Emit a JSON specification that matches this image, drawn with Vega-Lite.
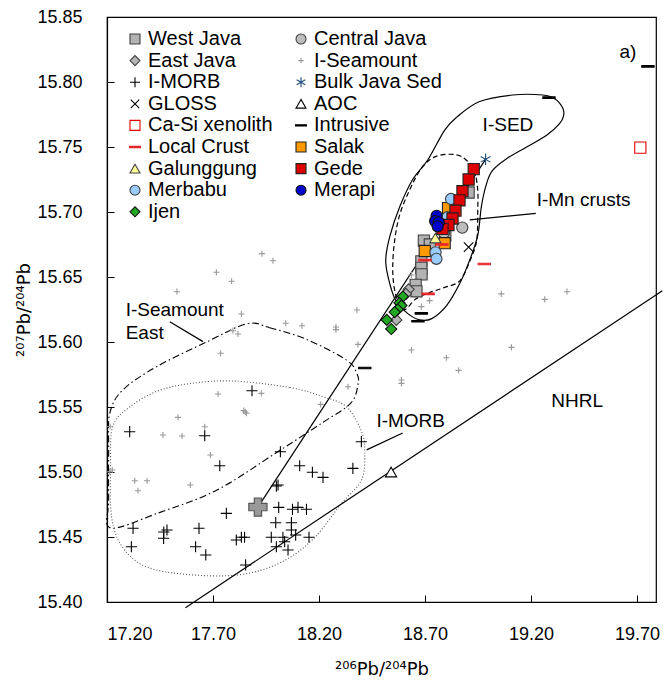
{
  "$schema": "https://vega.github.io/schema/vega-lite/v6.json",
  "width": 549,
  "height": 585,
  "autosize": "none",
  "padding": {"left": 107, "top": 17, "right": 8, "bottom": 84},
  "background": "white",
  "config": {
    "font": "Liberation Sans",
    "view": {"stroke": "black", "strokeWidth": 1.2},
    "axis": {"grid": false, "domainColor": "black", "domainWidth": 1.2, "tickColor": "black", "tickSize": -7, "labelFont": "Liberation Sans", "labelFontSize": 18, "labelColor": "black", "titleFont": "DejaVu Sans", "titleFontSize": 18, "titleFontWeight": "normal", "titleColor": "black"}
  },
  "datasets": {
    "pts": [
      {"s":"I-Seamount","x":17.931,"y":15.668},{"s":"I-Seamount","x":17.983,"y":15.6625},{"s":"I-Seamount","x":17.716,"y":15.6536},{"s":"I-Seamount","x":17.788,"y":15.6467},{"s":"I-Seamount","x":17.53,"y":15.6387},{"s":"I-Seamount","x":17.834,"y":15.6215},{"s":"I-Seamount","x":18.379,"y":15.6246},{"s":"I-Seamount","x":18.043,"y":15.6144},{"s":"I-Seamount","x":18.12,"y":15.6125},{"s":"I-Seamount","x":18.28,"y":15.6115},{"s":"I-Seamount","x":18.28,"y":15.6095},{"s":"I-Seamount","x":17.794,"y":15.6087},{"s":"I-Seamount","x":17.818,"y":15.6062},{"s":"I-Seamount","x":18.384,"y":15.5982},{"s":"I-Seamount","x":17.736,"y":15.5913},{"s":"I-Seamount","x":18.337,"y":15.5656},{"s":"I-Seamount","x":17.724,"y":15.56},{"s":"I-Seamount","x":17.928,"y":15.5605},{"s":"I-Seamount","x":18.208,"y":15.552},{"s":"I-Seamount","x":17.845,"y":15.5472},{"s":"I-Seamount","x":17.852,"y":15.5462},{"s":"I-Seamount","x":17.858,"y":15.5452},{"s":"I-Seamount","x":17.535,"y":15.542},{"s":"I-Seamount","x":17.661,"y":15.5348},{"s":"I-Seamount","x":17.464,"y":15.5285},{"s":"I-Seamount","x":17.554,"y":15.5277},{"s":"I-Seamount","x":17.688,"y":15.5131},{"s":"I-Seamount","x":17.225,"y":15.5015},{"s":"I-Seamount","x":17.213,"y":15.5002},{"s":"I-Seamount","x":17.331,"y":15.4933},{"s":"I-Seamount","x":17.389,"y":15.4933},{"s":"I-Seamount","x":17.346,"y":15.4856},{"s":"I-Seamount","x":17.593,"y":15.49},{"s":"I-Seamount","x":19.06,"y":15.637},{"s":"I-Seamount","x":19.265,"y":15.6328},{"s":"I-Seamount","x":19.37,"y":15.6387},{"s":"I-Seamount","x":18.722,"y":15.6318},{"s":"I-Seamount","x":18.683,"y":15.6272},{"s":"I-Seamount","x":18.636,"y":15.5938},{"s":"I-Seamount","x":18.801,"y":15.5879},{"s":"I-Seamount","x":18.859,"y":15.5782},{"s":"I-Seamount","x":19.108,"y":15.5959},{"s":"I-Seamount","x":18.589,"y":15.5708},{"s":"I-Seamount","x":18.589,"y":15.5682},{"s":"I-Seamount","x":18.636,"y":15.6515},{"s":"I-Seamount","x":17.215,"y":15.535},
      {"s":"I-MORB","x":17.884,"y":15.5625},{"s":"I-MORB","x":17.307,"y":15.531},{"s":"I-MORB","x":17.661,"y":15.5279},{"s":"I-MORB","x":18.4,"y":15.5233},{"s":"I-MORB","x":18.018,"y":15.5156},{"s":"I-MORB","x":17.732,"y":15.5048},{"s":"I-MORB","x":18.109,"y":15.5048},{"s":"I-MORB","x":18.169,"y":15.4998},{"s":"I-MORB","x":18.219,"y":15.4959},{"s":"I-MORB","x":18.36,"y":15.5028},{"s":"I-MORB","x":18.007,"y":15.49},{"s":"I-MORB","x":17.999,"y":15.4892},{"s":"I-MORB","x":18.01,"y":15.4728},{"s":"I-MORB","x":18.075,"y":15.4713},{"s":"I-MORB","x":18.101,"y":15.4728},{"s":"I-MORB","x":18.141,"y":15.4713},{"s":"I-MORB","x":17.763,"y":15.4682},{"s":"I-MORB","x":17.323,"y":15.4567},{"s":"I-MORB","x":17.483,"y":15.4554},{"s":"I-MORB","x":17.468,"y":15.4538},{"s":"I-MORB","x":17.634,"y":15.4567},{"s":"I-MORB","x":17.315,"y":15.4425},{"s":"I-MORB","x":17.467,"y":15.449},{"s":"I-MORB","x":17.618,"y":15.4425},{"s":"I-MORB","x":17.666,"y":15.4362},{"s":"I-MORB","x":17.81,"y":15.4477},{"s":"I-MORB","x":17.834,"y":15.4498},{"s":"I-MORB","x":17.849,"y":15.4498},{"s":"I-MORB","x":17.854,"y":15.4285},{"s":"I-MORB","x":17.996,"y":15.461},{"s":"I-MORB","x":18.07,"y":15.461},{"s":"I-MORB","x":18.07,"y":15.4554},{"s":"I-MORB","x":17.975,"y":15.4498},{"s":"I-MORB","x":18.03,"y":15.4498},{"s":"I-MORB","x":18.038,"y":15.4464},{"s":"I-MORB","x":17.999,"y":15.4425},{"s":"I-MORB","x":18.054,"y":15.44},{"s":"I-MORB","x":18.09,"y":15.4515},{"s":"I-MORB","x":18.153,"y":15.4498},
      {"s":"West Java","x":18.906,"y":15.715},{"s":"West Java","x":18.695,"y":15.678},{"s":"West Java","x":18.723,"y":15.675},{"s":"West Java","x":18.683,"y":15.662},{"s":"West Java","x":18.683,"y":15.657},{"s":"West Java","x":18.684,"y":15.652},{"s":"West Java","x":18.656,"y":15.644},{"s":"West Java","x":18.66,"y":15.639},{"s":"West Java","x":18.796,"y":15.682},
      {"s":"East Java","x":18.623,"y":15.6405},{"s":"East Java","x":18.565,"y":15.617},{"s":"East Java","x":18.61,"y":15.637},
      {"s":"Central Java","x":18.876,"y":15.688},{"s":"Central Java","x":18.79,"y":15.684},
      {"s":"Ijen","x":18.596,"y":15.635},{"s":"Ijen","x":18.58,"y":15.63},{"s":"Ijen","x":18.589,"y":15.628},{"s":"Ijen","x":18.572,"y":15.625},{"s":"Ijen","x":18.557,"y":15.623},{"s":"Ijen","x":18.52,"y":15.617},{"s":"Ijen","x":18.541,"y":15.61},
      {"s":"Salak","x":18.809,"y":15.703},{"s":"Salak","x":18.793,"y":15.676},{"s":"Salak","x":18.699,"y":15.67},
      {"s":"Galunggung","x":18.749,"y":15.68},
      {"s":"Merbabu","x":18.823,"y":15.71},{"s":"Merbabu","x":18.806,"y":15.696},{"s":"Merbabu","x":18.798,"y":15.689},{"s":"Merbabu","x":18.75,"y":15.669},{"s":"Merbabu","x":18.754,"y":15.664},
      {"s":"Gede","x":18.93,"y":15.733},{"s":"Gede","x":18.906,"y":15.725},{"s":"Gede","x":18.877,"y":15.716},{"s":"Gede","x":18.863,"y":15.709},{"s":"Gede","x":18.844,"y":15.701},{"s":"Gede","x":18.83,"y":15.695},{"s":"Gede","x":18.811,"y":15.69},{"s":"Gede","x":18.783,"y":15.687},
      {"s":"Merapi","x":18.755,"y":15.697},{"s":"Merapi","x":18.748,"y":15.693},{"s":"Merapi","x":18.765,"y":15.692},{"s":"Merapi","x":18.76,"y":15.689},
      {"s":"Local Crust","x":18.78,"y":15.675},{"s":"Local Crust","x":18.7,"y":15.663},{"s":"Local Crust","x":18.98,"y":15.66},{"s":"Local Crust","x":18.715,"y":15.637},
      {"s":"Intrusive","x":19.285,"y":15.788},{"s":"Intrusive","x":19.752,"y":15.812},{"s":"Intrusive","x":18.683,"y":15.622},{"s":"Intrusive","x":18.667,"y":15.616},{"s":"Intrusive","x":18.416,"y":15.58},
      {"s":"GLOSS","x":18.906,"y":15.673},
      {"s":"Bulk Java Sed","x":18.986,"y":15.7405},
      {"s":"AOC","x":18.54,"y":15.5},
      {"s":"Ca-Si xenolith","x":19.716,"y":15.7495}
    ],
    "contours": [
      {"c":"I-SED","o":1,"x":18.713,"y":15.74},{"c":"I-SED","o":2,"x":18.793,"y":15.763},{"c":"I-SED","o":3,"x":18.85,"y":15.773},{"c":"I-SED","o":4,"x":18.958,"y":15.785},{"c":"I-SED","o":5,"x":19.114,"y":15.79},{"c":"I-SED","o":6,"x":19.255,"y":15.79},{"c":"I-SED","o":7,"x":19.314,"y":15.787},{"c":"I-SED","o":8,"x":19.35,"y":15.78},{"c":"I-SED","o":9,"x":19.354,"y":15.774},{"c":"I-SED","o":10,"x":19.335,"y":15.768},{"c":"I-SED","o":11,"x":19.274,"y":15.759},{"c":"I-SED","o":12,"x":19.18,"y":15.75},{"c":"I-SED","o":13,"x":19.085,"y":15.741},{"c":"I-SED","o":14,"x":19.019,"y":15.732},{"c":"I-SED","o":15,"x":18.991,"y":15.722},{"c":"I-SED","o":16,"x":18.967,"y":15.705},{"c":"I-SED","o":17,"x":18.949,"y":15.682},{"c":"I-SED","o":18,"x":18.911,"y":15.663},{"c":"I-SED","o":19,"x":18.864,"y":15.645},{"c":"I-SED","o":20,"x":18.802,"y":15.628},{"c":"I-SED","o":21,"x":18.732,"y":15.618},{"c":"I-SED","o":22,"x":18.675,"y":15.617},{"c":"I-SED","o":23,"x":18.618,"y":15.622},{"c":"I-SED","o":24,"x":18.562,"y":15.632},{"c":"I-SED","o":25,"x":18.529,"y":15.648},{"c":"I-SED","o":26,"x":18.515,"y":15.663},{"c":"I-SED","o":27,"x":18.534,"y":15.681},{"c":"I-SED","o":28,"x":18.581,"y":15.704},{"c":"I-SED","o":29,"x":18.642,"y":15.725},
      {"c":"I-Mn","o":1,"x":18.755,"y":15.743},{"c":"I-Mn","o":2,"x":18.849,"y":15.744},{"c":"I-Mn","o":3,"x":18.901,"y":15.739},{"c":"I-Mn","o":4,"x":18.934,"y":15.731},{"c":"I-Mn","o":5,"x":18.949,"y":15.717},{"c":"I-Mn","o":6,"x":18.949,"y":15.702},{"c":"I-Mn","o":7,"x":18.944,"y":15.678},{"c":"I-Mn","o":8,"x":18.911,"y":15.662},{"c":"I-Mn","o":9,"x":18.864,"y":15.647},{"c":"I-Mn","o":10,"x":18.793,"y":15.642},{"c":"I-Mn","o":11,"x":18.722,"y":15.638},{"c":"I-Mn","o":12,"x":18.656,"y":15.633},{"c":"I-Mn","o":13,"x":18.604,"y":15.625},{"c":"I-Mn","o":14,"x":18.571,"y":15.632},{"c":"I-Mn","o":15,"x":18.553,"y":15.644},{"c":"I-Mn","o":16,"x":18.548,"y":15.659},{"c":"I-Mn","o":17,"x":18.557,"y":15.678},{"c":"I-Mn","o":18,"x":18.581,"y":15.698},{"c":"I-Mn","o":19,"x":18.628,"y":15.717},{"c":"I-Mn","o":20,"x":18.685,"y":15.734},
      {"c":"SE","o":1,"x":17.859,"y":15.614},{"c":"SE","o":2,"x":17.967,"y":15.611},{"c":"SE","o":3,"x":18.142,"y":15.602},{"c":"SE","o":4,"x":18.331,"y":15.586},{"c":"SE","o":5,"x":18.378,"y":15.576},{"c":"SE","o":6,"x":18.385,"y":15.568},{"c":"SE","o":7,"x":18.35,"y":15.553},{"c":"SE","o":8,"x":18.217,"y":15.538},{"c":"SE","o":9,"x":18.0,"y":15.515},{"c":"SE","o":10,"x":17.717,"y":15.486},{"c":"SE","o":11,"x":17.434,"y":15.468},{"c":"SE","o":12,"x":17.217,"y":15.457},{"c":"SE","o":13,"x":17.208,"y":15.478},{"c":"SE","o":14,"x":17.208,"y":15.517},{"c":"SE","o":15,"x":17.213,"y":15.545},{"c":"SE","o":16,"x":17.274,"y":15.563},{"c":"SE","o":17,"x":17.434,"y":15.581},{"c":"SE","o":18,"x":17.67,"y":15.6},
      {"c":"MORB","o":1,"x":17.793,"y":15.57},{"c":"MORB","o":2,"x":18.062,"y":15.565},{"c":"MORB","o":3,"x":18.217,"y":15.558},{"c":"MORB","o":4,"x":18.331,"y":15.55},{"c":"MORB","o":5,"x":18.401,"y":15.531},{"c":"MORB","o":6,"x":18.416,"y":15.515},{"c":"MORB","o":7,"x":18.401,"y":15.494},{"c":"MORB","o":8,"x":18.307,"y":15.476},{"c":"MORB","o":9,"x":18.17,"y":15.448},{"c":"MORB","o":10,"x":18.015,"y":15.43},{"c":"MORB","o":11,"x":17.826,"y":15.421},{"c":"MORB","o":12,"x":17.59,"y":15.421},{"c":"MORB","o":13,"x":17.387,"y":15.427},{"c":"MORB","o":14,"x":17.274,"y":15.442},{"c":"MORB","o":15,"x":17.222,"y":15.465},{"c":"MORB","o":16,"x":17.217,"y":15.504},{"c":"MORB","o":17,"x":17.227,"y":15.535},{"c":"MORB","o":18,"x":17.307,"y":15.55},{"c":"MORB","o":19,"x":17.434,"y":15.562},{"c":"MORB","o":20,"x":17.59,"y":15.568}
    ],
    "lines": [
      {"id":"mix","o":1,"x":17.912,"y":15.473},{"id":"mix","o":2,"x":18.986,"y":15.7405},
      {"id":"nhrl","o":1,"x":17.57,"y":15.3956},{"id":"nhrl","o":2,"x":19.82,"y":15.6395},
      {"id":"l1","o":1,"x":17.496,"y":15.6156},{"id":"l1","o":2,"x":17.653,"y":15.6003},
      {"id":"l2","o":1,"x":18.595,"y":15.53},{"id":"l2","o":2,"x":18.425,"y":15.517},
      {"id":"l3","o":1,"x":19.223,"y":15.699},{"id":"l3","o":2,"x":18.911,"y":15.694}
    ],
    "labels": [
      {"t":"I-SED","x":18.972,"y":15.767},
      {"t":"I-Mn crusts","x":19.227,"y":15.709},
      {"t":"NHRL","x":19.296,"y":15.555},
      {"t":"I-MORB","x":18.471,"y":15.5395},
      {"t":"I-Seamount","x":17.288,"y":15.6246},
      {"t":"East","x":17.288,"y":15.607},
      {"t":"a)","x":19.618,"y":15.823}
    ],
    "endm": [{"x":17.912,"y":15.473}]
  },
  "encoding": {
    "x": {"field":"x","type":"quantitative","scale":{"domain":[17.2,19.79],"nice":false,"zero":false},
      "axis":{"values":[17.2,17.7,18.2,18.7,19.2,19.7],"format":".2f","labelPadding":30,"title":"²⁰⁶Pb/²⁰⁴Pb","titlePadding":17}},
    "y": {"field":"y","type":"quantitative","scale":{"domain":[15.4,15.85],"nice":false,"zero":false},
      "axis":{"values":[15.4,15.45,15.5,15.55,15.6,15.65,15.7,15.75,15.8,15.85],"format":".2f","labelPadding":32,"title":"²⁰⁷Pb/²⁰⁴Pb","titleX":-83,"titleBaseline":"middle"}}
  },
  "layer": [
    {"data":{"name":"contours"},"transform":[{"filter":"datum.c == 'I-SED'"}],
     "mark":{"type":"line","interpolate":"cardinal-closed","color":"black","strokeWidth":1.2},
     "encoding":{"order":{"field":"o","type":"quantitative"}}},
    {"data":{"name":"contours"},"transform":[{"filter":"datum.c == 'I-Mn'"}],
     "mark":{"type":"line","interpolate":"cardinal-closed","color":"black","strokeWidth":1.2,"strokeDash":[5,3]},
     "encoding":{"order":{"field":"o","type":"quantitative"}}},
    {"data":{"name":"contours"},"transform":[{"filter":"datum.c == 'SE'"}],
     "mark":{"type":"line","interpolate":"cardinal-closed","color":"black","strokeWidth":1.1,"strokeDash":[7,3,1.5,3]},
     "encoding":{"order":{"field":"o","type":"quantitative"}}},
    {"data":{"name":"contours"},"transform":[{"filter":"datum.c == 'MORB'"}],
     "mark":{"type":"line","interpolate":"cardinal-closed","color":"#555555","strokeWidth":1.1,"strokeDash":[1,2]},
     "encoding":{"order":{"field":"o","type":"quantitative"}}},
    {"data":{"name":"lines"},
     "mark":{"type":"line","color":"black","strokeWidth":1.2},
     "encoding":{"detail":{"field":"id","type":"nominal"},"order":{"field":"o","type":"quantitative"}}},
    {"data":{"name":"endm"},
     "mark":{"type":"point","shape":"cross","filled":true,"fill":"#999999","stroke":"#555555","strokeWidth":1.2,"size":330,"opacity":1}},
    {"data":{"name":"pts"},
     "mark":{"type":"point","filled":true,"opacity":1,"strokeWidth":1.1,"size":125},
     "encoding":{
       "shape":{"field":"s","type":"nominal",
         "scale":{"domain":["West Java","East Java","I-MORB","GLOSS","Ca-Si xenolith","Local Crust","Galunggung","Merbabu","Ijen","Central Java","I-Seamount","Bulk Java Sed","AOC","Intrusive","Salak","Gede","Merapi"],
           "range":["square","diamond","M-1,0H1M0,-1V1","M-0.85,-0.85L0.85,0.85M-0.85,0.85L0.85,-0.85","square","M-1.1,-0.13H1.1V0.13H-1.1Z","triangle-up","circle","diamond","circle","M-0.55,0H0.55M0,-0.55V0.55","M0,-1V1M-0.87,-0.5L0.87,0.5M-0.87,0.5L0.87,-0.5","triangle-up","M-1.1,-0.13H1.1V0.13H-1.1Z","square","square","circle"]},
         "legend":{"title":null,"orient":"none","legendX":18,"legendY":12,"columns":2,"columnPadding":18,"rowPadding":1.6,"labelFontSize":20,"labelFont":"Liberation Sans","labelColor":"black","symbolSize":100,"symbolStrokeWidth":1.1,"labelOffset":3,"padding":0}},
       "fill":{"field":"s","type":"nominal",
         "scale":{"domain":["West Java","East Java","I-MORB","GLOSS","Ca-Si xenolith","Local Crust","Galunggung","Merbabu","Ijen","Central Java","I-Seamount","Bulk Java Sed","AOC","Intrusive","Salak","Gede","Merapi"],
           "range":["#b3b3b3","#b3b3b3","transparent","transparent","white","#e8262a","#ffff99","#99ccff","#22a822","#bdbdbd","transparent","transparent","white","black","#ff9900","#dd0000","#0000cc"]},
         "legend":{"title":null,"orient":"none","legendX":18,"legendY":12,"columns":2,"columnPadding":18,"rowPadding":1.6,"labelFontSize":20,"labelFont":"Liberation Sans","labelColor":"black","symbolSize":100,"symbolStrokeWidth":1.1,"labelOffset":3,"padding":0}},
       "stroke":{"field":"s","type":"nominal",
         "scale":{"domain":["West Java","East Java","I-MORB","GLOSS","Ca-Si xenolith","Local Crust","Galunggung","Merbabu","Ijen","Central Java","I-Seamount","Bulk Java Sed","AOC","Intrusive","Salak","Gede","Merapi"],
           "range":["#404040","#404040","black","black","#e00000","#e8262a","#404040","#404040","#111111","#404040","#999999","#1f4e79","black","black","#222222","#222222","#111111"]},
         "legend":{"title":null,"orient":"none","legendX":18,"legendY":12,"columns":2,"columnPadding":18,"rowPadding":1.6,"labelFontSize":20,"labelFont":"Liberation Sans","labelColor":"black","symbolSize":100,"symbolStrokeWidth":1.1,"labelOffset":3,"padding":0}}
     }},
    {"data":{"name":"labels"},
     "mark":{"type":"text","align":"left","baseline":"middle","font":"Liberation Sans","fontSize":19,"color":"black"},
     "encoding":{"text":{"field":"t","type":"nominal"}}}
  ]
}
